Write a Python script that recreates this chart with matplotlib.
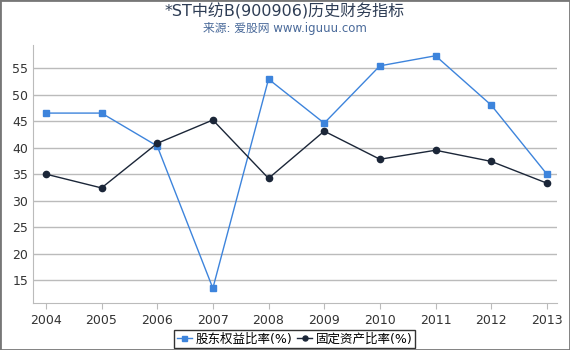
import matplotlib.pyplot as plt
from matplotlib.patches import Rectangle

plt.rcParams['font.family'] = ['DejaVu Sans', 'Noto Sans CJK SC']

years = [2004, 2005, 2006, 2007, 2008, 2009, 2010, 2011, 2012, 2013]
equity_ratio = [46.5, 46.5, 40.3, 13.5, 52.9, 44.6, 55.4, 57.3, 48.0, 35.0]
fixed_asset_ratio = [35.0, 32.4, 40.8, 45.2, 34.2, 43.1, 37.8, 39.5, 37.4, 33.3]
yticks = [15, 20, 25, 30, 35, 40, 45, 50, 55]

fig = plt.figure(figsize=(5.7, 3.5), dpi=100)
ax = fig.add_axes([0.058, 0.134, 0.919, 0.737])

ax.plot(years, equity_ratio, color='#3d84dc', lw=1, marker='s', ms=4.5,
        label='股东权益比率(%)')
ax.plot(years, fixed_asset_ratio, color='#1b2638', lw=1, marker='o', ms=4.5,
        label='固定资产比率(%)')

ax.set_xlim(2003.77, 2013.18)
ax.set_ylim(10.7, 59.3)
ax.set_xticks(years)
ax.set_yticks(yticks)
ax.grid(axis='y', color='#bbbbbb', lw=1)
ax.set_axisbelow(True)
for s in ['top', 'right']:
    ax.spines[s].set_visible(False)
for s in ['left', 'bottom']:
    ax.spines[s].set_color('#bbbbbb')
ax.tick_params(axis='y', length=0, labelsize=9, colors='#333333')
ax.tick_params(axis='x', length=4, color='#bbbbbb', labelsize=9, colors='#333333')

fig.text(0.5, 0.968, '*ST中纺B(900906)历史财务指标', ha='center', va='center',
         fontsize=11.5, color='#2e3d55')
fig.text(0.5, 0.918, '来源: 爱股网 www.iguuu.com', ha='center', va='center',
         fontsize=8.5, color='#4a6a9a')

leg = ax.legend(loc='upper center', bbox_to_anchor=(0.5, -0.08), ncol=2,
                frameon=True, fancybox=False, fontsize=9, handlelength=1.2,
                handletextpad=0.3, columnspacing=0.4, borderpad=0.2,
                markerscale=0.8)
leg.get_frame().set_edgecolor('black')
leg.get_frame().set_linewidth(1)

fig.patches.append(Rectangle((0, 0), 1, 1, transform=fig.transFigure,
                             fill=False, edgecolor='#777777', lw=2))

fig.savefig('out.png')
